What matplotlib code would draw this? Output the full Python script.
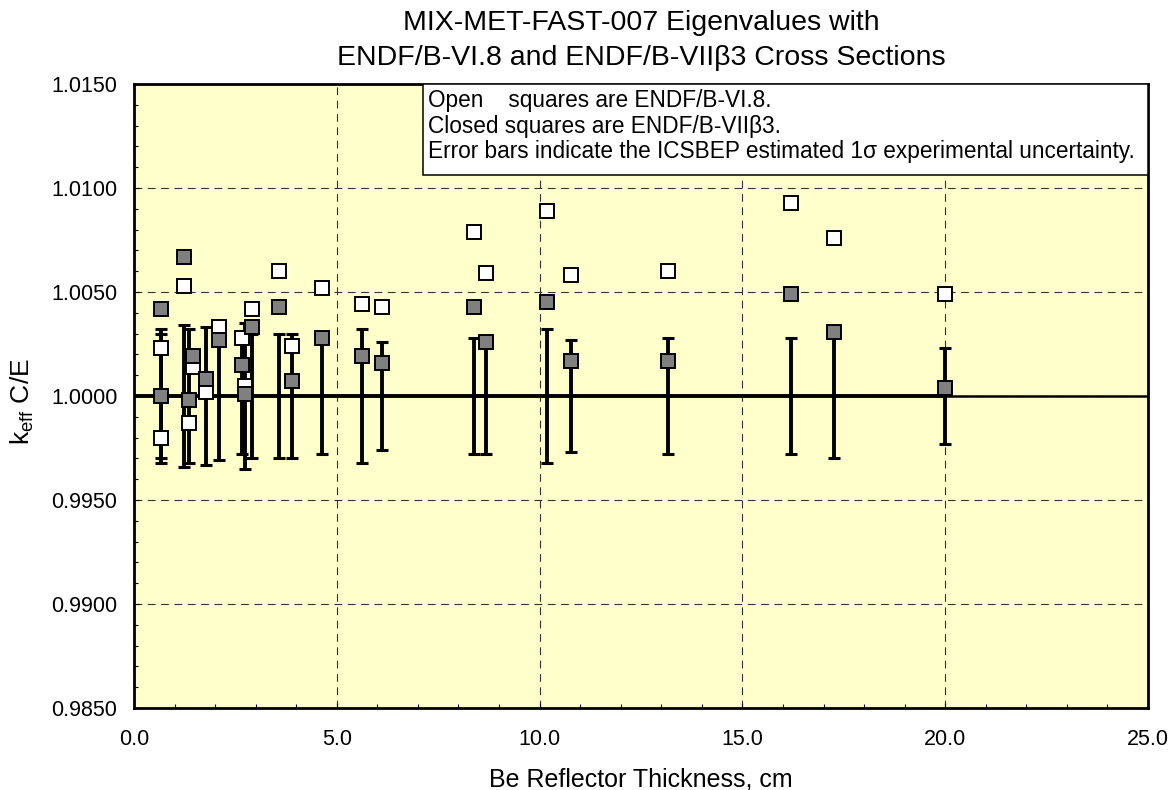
import numpy as np
import matplotlib
matplotlib.use("Agg")
from matplotlib import pyplot as plt
from matplotlib.patches import Rectangle
from matplotlib.ticker import MultipleLocator, FormatStrFormatter

plt.rcParams['font.family'] = ['Liberation Sans', 'DejaVu Sans']
plt.rcParams['mathtext.default'] = 'regular'

# Be reflector thickness (cm) for each case
thickness = [0.66, 0.66, 1.23, 1.36, 1.45, 1.78, 2.10, 2.66, 2.73, 2.91,
             3.57, 3.90, 4.63, 5.62, 6.11, 8.38, 8.67, 10.18, 10.77,
             13.17, 16.20, 17.26, 20.00]
# C/E with ENDF/B-VI.8 (open squares)
ce_vi8 = [1.0023, 0.9980, 1.0053, 0.9987, 1.0014, 1.0002, 1.0033, 1.0028,
          1.0005, 1.0042, 1.0060, 1.0024, 1.0052, 1.0044, 1.0043, 1.0079,
          1.0059, 1.0089, 1.0058, 1.0060, 1.0093, 1.0076, 1.0049]
# C/E with ENDF/B-VIIb3 (closed squares)
ce_vii = [1.0042, 1.0000, 1.0067, 0.9998, 1.0019, 1.0008, 1.0027, 1.0015,
          1.0001, 1.0033, 1.0043, 1.0007, 1.0028, 1.0019, 1.0016, 1.0043,
          1.0026, 1.0045, 1.0017, 1.0017, 1.0049, 1.0031, 1.0004]
# ICSBEP 1-sigma experimental uncertainty (nan = no bar shown)
sigma = [0.0032, 0.0030, 0.0034, 0.0032, np.nan, 0.0033, 0.0031, 0.0028,
         0.0035, 0.0030, 0.0030, 0.0030, 0.0028, 0.0032, 0.0026, 0.0028,
         0.0028, 0.0032, 0.0027, 0.0028, 0.0028, 0.0030, 0.0023]

W, H = 1170, 790
fig = plt.figure(figsize=(W / 100, H / 100), dpi=100)
ax = fig.add_axes([134 / W, 1 - 708 / H, 1014 / W, 624 / H])
ax.set_facecolor('#FFFFCC')

ax.set_xlim(0, 25)
ax.set_ylim(0.985, 1.015)
ax.xaxis.set_major_locator(MultipleLocator(5))
ax.xaxis.set_minor_locator(MultipleLocator(1))
ax.yaxis.set_major_locator(MultipleLocator(0.005))
ax.yaxis.set_minor_locator(MultipleLocator(0.001))
ax.xaxis.set_major_formatter(FormatStrFormatter('%.1f'))
ax.yaxis.set_major_formatter(FormatStrFormatter('%.4f'))
ax.tick_params(which='both', direction='in', width=0.8, labelsize=15.5,
               top=False, right=False)
ax.tick_params(which='major', length=3.5)
ax.tick_params(which='minor', length=3)
ax.tick_params(axis='x', pad=15)
ax.tick_params(axis='y', pad=12)
for s in ax.spines.values():
    s.set_linewidth(2)

ax.grid(which='major', linestyle=(0, (7, 5)), color='#333333', lw=0.8, zorder=1)
ax.set_axisbelow(True)

x = np.array(thickness)
sig = np.array(sigma)
# unity line, heavy across the data range
ax.plot([0, x.max()], [1, 1], color='black', lw=2.8, zorder=2)
ax.plot([x.max(), 25], [1, 1], color='black', lw=1.8, zorder=2)

m = ~np.isnan(sig)
ax.errorbar(x[m], np.ones(m.sum()), yerr=sig[m], fmt='none', ecolor='black',
            elinewidth=2.8, capsize=4.3, capthick=2.2, zorder=3)

ax.plot(x, ce_vi8, 's', mfc='white', mec='black', ms=9.4, mew=1.4, zorder=4)
ax.plot(x, ce_vii, 's', mfc='#808080', mec='black', ms=9.4, mew=1.4, zorder=5)

# note box in upper right
x0 = (423 - 134) / 1014
y0 = (708 - 175) / 624
ax.add_patch(Rectangle((x0, y0), 1 - x0, 1 - y0, transform=ax.transAxes,
                       facecolor='white', edgecolor='black', lw=1.1, zorder=6))
notes = ['Open    squares are ENDF/B-VI.8.',
         'Closed squares are ENDF/B-VII\u03b23.',
         'Error bars indicate the ICSBEP estimated 1\u03c3 experimental uncertainty.']
for i, line in enumerate(notes):
    ax.text((428 - 134) / 1014, (708 - 107 - 25.5 * i) / 624, line,
            transform=ax.transAxes, fontsize=16.3, va='baseline', ha='left',
            zorder=7)

fig.text(641 / W, 1 - 30 / H, 'MIX-MET-FAST-007 Eigenvalues with',
         fontsize=20.5, ha='center', va='baseline')
fig.text(641 / W, 1 - 65 / H, 'ENDF/B-VI.8 and ENDF/B-VII\u03b23 Cross Sections',
         fontsize=20.5, ha='center', va='baseline')
fig.text(641 / W, 1 - 786 / H, 'Be Reflector Thickness, cm',
         fontsize=18, ha='center', va='baseline')
fig.text(22 / W, 1 - 402 / H, 'k$_{eff}$ C/E', fontsize=19,
         rotation=90, ha='center', va='center')

fig.savefig('out.png', dpi=100)
